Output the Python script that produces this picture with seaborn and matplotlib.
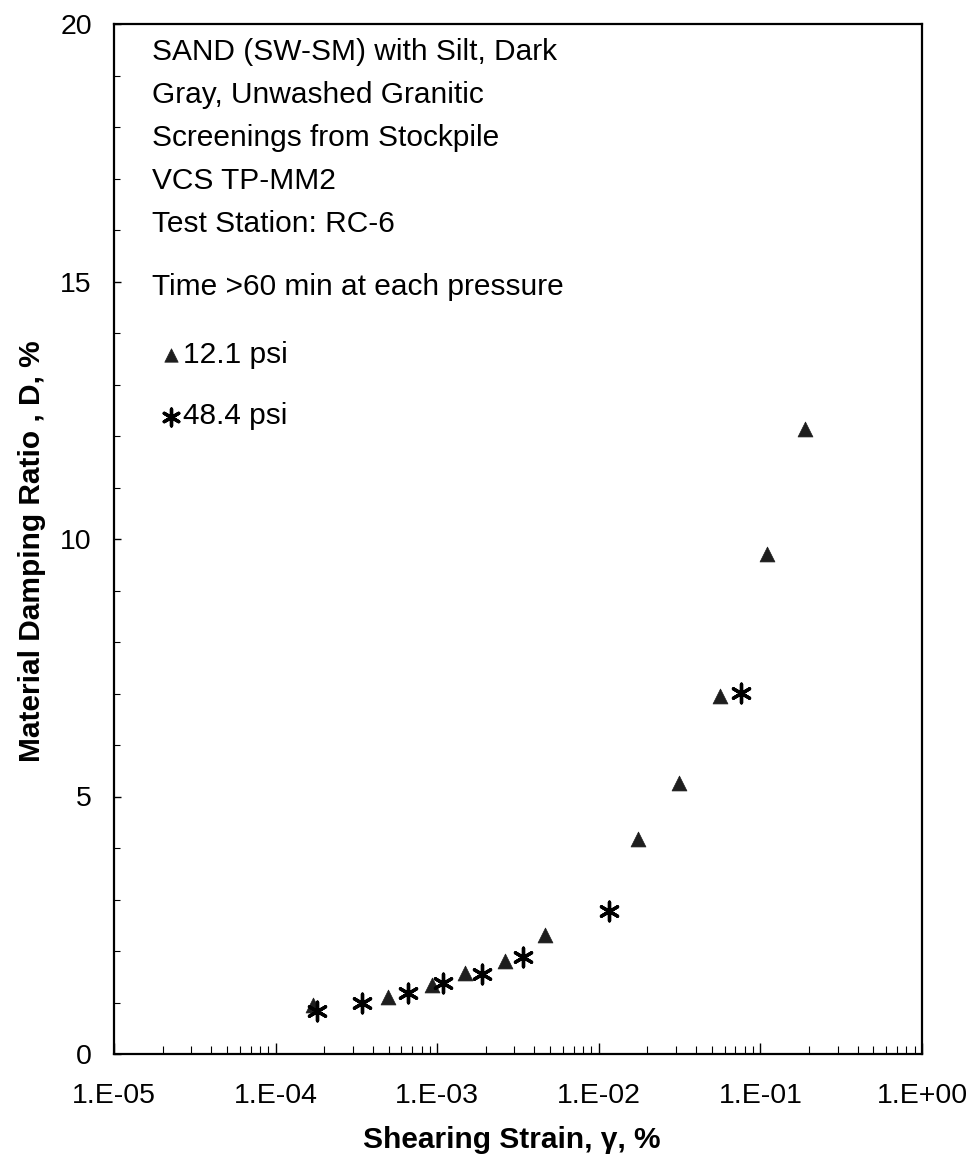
import numpy as np
import pandas as pd
import matplotlib
matplotlib.use("Agg")
import matplotlib.pyplot as plt
import matplotlib.ticker as mticker
import seaborn as sns

# ---- data ----
strain_121 = [1.70e-4, 4.97e-4, 9.3e-4, 1.49e-3, 2.63e-3, 4.65e-3, 0.0175, 0.0313, 0.0562, 0.110, 0.189]
damp_121 = [0.95, 1.11, 1.34, 1.57, 1.81, 2.31, 4.17, 5.26, 6.95, 9.71, 12.14]
strain_484 = [1.80e-4, 3.43e-4, 6.59e-4, 1.09e-3, 1.89e-3, 3.40e-3, 0.01156, 0.0759]
damp_484 = [0.83, 0.99, 1.18, 1.38, 1.55, 1.88, 2.78, 7.01]
series_labels = ["12.1 psi", "48.4 psi"]
x_ticks = [1e-5, 1e-4, 1e-3, 1e-2, 1e-1, 1e0]
y_ticks = [0, 5, 10, 15, 20]
note_lines = ["SAND (SW-SM) with Silt, Dark", "Gray, Unwashed Granitic",
              "Screenings from Stockpile", "VCS TP-MM2", "Test Station: RC-6"]
time_note = "Time >60 min at each pressure"

sns.set_style("ticks")
plt.rcParams["font.family"] = ["Liberation Sans", "DejaVu Sans"]
plt.rcParams["text.color"] = "black"
plt.rcParams["axes.labelcolor"] = "black"
plt.rcParams["xtick.color"] = "black"
plt.rcParams["ytick.color"] = "black"

df121 = pd.DataFrame({"strain": strain_121, "damp": damp_121})
df484 = pd.DataFrame({"strain": strain_484, "damp": damp_484})

fig = plt.figure(figsize=(9.74, 11.68), dpi=100)
W, H = 974, 1168
ax = fig.add_axes([114 / W, (H - 1054) / H, 808 / W, 1030 / H])

sns.scatterplot(data=df121, x="strain", y="damp", ax=ax, marker="^", s=115,
                color="#1e1e1e", edgecolor="#1e1e1e", linewidth=0.5,
                label=series_labels[0], zorder=3)
sns.scatterplot(data=df484, x="strain", y="damp", ax=ax, marker=(6, 2, 0), s=180,
                color="black", edgecolor="black", linewidth=2.4,
                label=series_labels[1], zorder=4)

ax.set_xscale("log")
ax.set_xlim(1e-5, 1e0)
ax.set_ylim(0, 20)
ax.xaxis.set_major_locator(mticker.FixedLocator(x_ticks))
ax.xaxis.set_minor_locator(mticker.LogLocator(base=10, subs=np.arange(2, 10)))
ax.xaxis.set_minor_formatter(mticker.NullFormatter())
ax.xaxis.set_major_formatter(mticker.FuncFormatter(
    lambda v, p: "1.E{:+03d}".format(int(round(np.log10(v))))))
ax.yaxis.set_major_locator(mticker.FixedLocator(y_ticks))
ax.yaxis.set_minor_locator(mticker.MultipleLocator(1))

ax.tick_params(axis="x", which="major", direction="in", length=8, width=1,
               labelsize=20.5, pad=21)
ax.tick_params(axis="x", which="minor", direction="in", length=6, width=0.8)
ax.tick_params(axis="y", which="major", direction="in", length=5, width=1,
               labelsize=20.5, pad=16)
ax.tick_params(axis="y", which="minor", direction="in", length=4, width=0.8)

for sp in ax.spines.values():
    sp.set_visible(True)
    sp.set_color("black")
    sp.set_linewidth(1.6)

ax.set_xlabel("Shearing Strain, γ, %", fontsize=21.5, fontweight="bold")
ax.set_ylabel("Material Damping Ratio , D, %", fontsize=21.5, fontweight="bold")
ax.xaxis.set_label_coords((512 - 114) / 808, (1054 - 1126) / 1030)
ax.yaxis.set_label_coords((46 - 114) / 808, (1054 - 551) / 1030)

for i, line in enumerate(note_lines):
    ax.text((152 - 114) / 808, (1054 - (60 + 43 * i)) / 1030, line,
            transform=ax.transAxes, fontsize=21.5, va="baseline", ha="left")
ax.text((152 - 114) / 808, (1054 - 295) / 1030, time_note,
        transform=ax.transAxes, fontsize=21.5, va="baseline", ha="left")

leg = ax.legend(loc="upper left", bbox_to_anchor=((164 - 114) / 808, (1054 - 341) / 1030),
                frameon=False, fontsize=21.5, handlelength=0.5, handletextpad=0.15,
                borderpad=0, borderaxespad=0, labelspacing=1.12, markerscale=0.9)

fig.savefig("out.png", dpi=100)
